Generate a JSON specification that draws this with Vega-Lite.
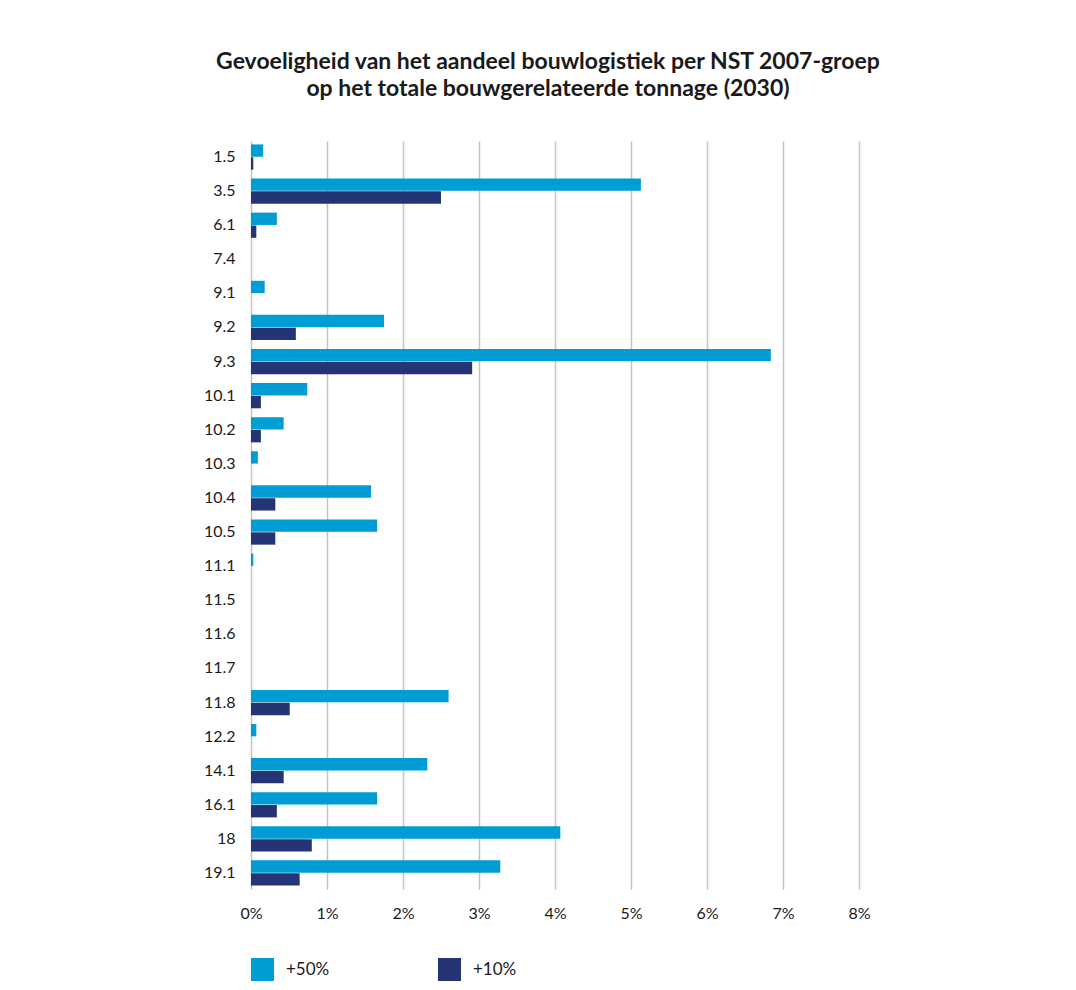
{
  "$schema": "https://vega.github.io/schema/vega-lite/v6.json",
  "width": 608,
  "height": 748,
  "autosize": {"type": "none"},
  "padding": {"left": 251, "top": 141, "right": 217, "bottom": 101},
  "background": "white",
  "title": {
    "text": ["Gevoeligheid van het aandeel bouwlogistiek per NST 2007-groep", "op het totale bouwgerelateerde tonnage (2030)"],
    "anchor": "middle",
    "frame": "group",
    "dx": -7,
    "offset": 40,
    "font": "Lato",
    "fontSize": 23,
    "fontWeight": "bold",
    "lineHeight": 27,
    "color": "#1a1a1a"
  },
  "data": {
    "values": [
      {"groep": "1.5", "scenario": "+50%", "aandeel": 0.0016},
      {"groep": "1.5", "scenario": "+10%", "aandeel": 0.0003},
      {"groep": "3.5", "scenario": "+50%", "aandeel": 0.0513},
      {"groep": "3.5", "scenario": "+10%", "aandeel": 0.0250},
      {"groep": "6.1", "scenario": "+50%", "aandeel": 0.0034},
      {"groep": "6.1", "scenario": "+10%", "aandeel": 0.0007},
      {"groep": "7.4", "scenario": "+50%", "aandeel": 0},
      {"groep": "7.4", "scenario": "+10%", "aandeel": 0},
      {"groep": "9.1", "scenario": "+50%", "aandeel": 0.0018},
      {"groep": "9.1", "scenario": "+10%", "aandeel": 0},
      {"groep": "9.2", "scenario": "+50%", "aandeel": 0.0175},
      {"groep": "9.2", "scenario": "+10%", "aandeel": 0.0059},
      {"groep": "9.3", "scenario": "+50%", "aandeel": 0.0684},
      {"groep": "9.3", "scenario": "+10%", "aandeel": 0.0291},
      {"groep": "10.1", "scenario": "+50%", "aandeel": 0.0074},
      {"groep": "10.1", "scenario": "+10%", "aandeel": 0.0013},
      {"groep": "10.2", "scenario": "+50%", "aandeel": 0.0043},
      {"groep": "10.2", "scenario": "+10%", "aandeel": 0.0013},
      {"groep": "10.3", "scenario": "+50%", "aandeel": 0.0009},
      {"groep": "10.3", "scenario": "+10%", "aandeel": 0},
      {"groep": "10.4", "scenario": "+50%", "aandeel": 0.0158},
      {"groep": "10.4", "scenario": "+10%", "aandeel": 0.0032},
      {"groep": "10.5", "scenario": "+50%", "aandeel": 0.0166},
      {"groep": "10.5", "scenario": "+10%", "aandeel": 0.0032},
      {"groep": "11.1", "scenario": "+50%", "aandeel": 0.0003},
      {"groep": "11.1", "scenario": "+10%", "aandeel": 0},
      {"groep": "11.5", "scenario": "+50%", "aandeel": 0},
      {"groep": "11.5", "scenario": "+10%", "aandeel": 0},
      {"groep": "11.6", "scenario": "+50%", "aandeel": 0},
      {"groep": "11.6", "scenario": "+10%", "aandeel": 0},
      {"groep": "11.7", "scenario": "+50%", "aandeel": 0},
      {"groep": "11.7", "scenario": "+10%", "aandeel": 0},
      {"groep": "11.8", "scenario": "+50%", "aandeel": 0.0260},
      {"groep": "11.8", "scenario": "+10%", "aandeel": 0.0051},
      {"groep": "12.2", "scenario": "+50%", "aandeel": 0.0007},
      {"groep": "12.2", "scenario": "+10%", "aandeel": 0},
      {"groep": "14.1", "scenario": "+50%", "aandeel": 0.0232},
      {"groep": "14.1", "scenario": "+10%", "aandeel": 0.0043},
      {"groep": "16.1", "scenario": "+50%", "aandeel": 0.0166},
      {"groep": "16.1", "scenario": "+10%", "aandeel": 0.0034},
      {"groep": "18", "scenario": "+50%", "aandeel": 0.0407},
      {"groep": "18", "scenario": "+10%", "aandeel": 0.0080},
      {"groep": "19.1", "scenario": "+50%", "aandeel": 0.0328},
      {"groep": "19.1", "scenario": "+10%", "aandeel": 0.0064}
    ]
  },
  "mark": {"type": "bar"},
  "encoding": {
    "y": {
      "field": "groep",
      "type": "nominal",
      "sort": null,
      "scale": {"paddingInner": 0.26, "paddingOuter": 0.1},
      "axis": {
        "title": null,
        "ticks": false,
        "domain": false,
        "labelPadding": 16,
        "labelFont": "Lato",
        "labelFontSize": 16,
        "labelColor": "#1a1a1a"
      }
    },
    "yOffset": {
      "field": "scenario",
      "type": "nominal",
      "sort": ["+50%", "+10%"],
      "scale": {"paddingInner": 0.04}
    },
    "x": {
      "field": "aandeel",
      "type": "quantitative",
      "scale": {"domain": [0, 0.08], "nice": false},
      "axis": {
        "title": null,
        "format": ".0%",
        "values": [0, 0.01, 0.02, 0.03, 0.04, 0.05, 0.06, 0.07, 0.08],
        "ticks": false,
        "domain": false,
        "grid": true,
        "gridColor": "#c4c4c4",
        "gridWidth": 1.5,
        "labelFlush": false,
        "labelPadding": 16,
        "labelFont": "Lato",
        "labelFontSize": 16,
        "labelColor": "#1a1a1a"
      }
    },
    "color": {
      "field": "scenario",
      "type": "nominal",
      "sort": ["+50%", "+10%"],
      "scale": {"domain": ["+50%", "+10%"], "range": ["#009dd5", "#243474"]},
      "legend": {
        "title": null,
        "orient": "none",
        "legendX": 0,
        "legendY": 817,
        "direction": "horizontal",
        "symbolType": "square",
        "symbolSize": 529,
        "symbolStrokeWidth": 0,
        "labelOffset": 12,
        "labelFont": "Lato",
        "labelFontSize": 17,
        "labelColor": "#1a1a1a",
        "columnPadding": 108,
        "padding": 0
      }
    }
  },
  "config": {
    "view": {"stroke": null}
  }
}
